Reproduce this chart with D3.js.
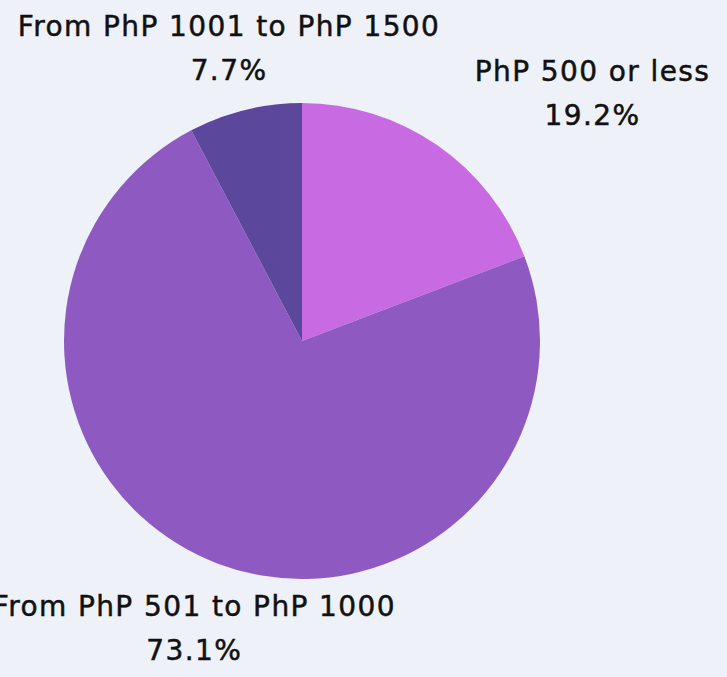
<!DOCTYPE html>
<meta charset="utf-8">
<title>PhP spending pie</title>
<style>
  body { margin: 0; background: #eef2f8; }
  svg { display: block; }
  .labels text {
    fill: #111;
    stroke: #111;
    stroke-width: 0.5px;
    letter-spacing: 1.4px;
    font: 400 28px "DejaVu Sans", sans-serif;
  }
</style>
<svg width="727" height="677"></svg>
<script src="https://cdn.jsdelivr.net/npm/d3@7"></script>
<script>
  var categories = ["PhP 500 or less", "From PhP 501 to PhP 1000", "From PhP 1001 to PhP 1500"];
  var shares = [19.2, 73.1, 7.7];
  var colors = ["#c86be3", "#8e5ac2", "#5b479c"];

  var svg = d3.select("svg"),
    width = +svg.attr("width"),
    height = +svg.attr("height"),
    cx = 302,
    cy = 341,
    radius = 238;

  svg.append("rect")
    .attr("width", width)
    .attr("height", height)
    .attr("fill", "#eef2f8");

  var data = categories.map(function(c, i) {
    return { label: c, value: shares[i], color: colors[i] };
  });

  var pie = d3.pie()
    .sort(null)
    .value(function(d) { return d.value; });

  var arc = d3.arc()
    .innerRadius(0)
    .outerRadius(radius);

  var labelArc = d3.arc()
    .innerRadius(radius * 1.28)
    .outerRadius(radius * 1.28);

  var g = svg.append("g")
    .attr("transform", "translate(" + cx + "," + cy + ")");

  var arcs = pie(data);

  g.append("g")
    .selectAll("path")
    .data(arcs)
    .enter().append("path")
    .attr("d", arc)
    .attr("fill", function(d) { return d.data.color; });

  var label = g.append("g")
    .attr("class", "labels")
    .selectAll("g")
    .data(arcs)
    .enter().append("g");

  var labelName = label.append("text")
    .attr("text-anchor", "middle")
    .attr("dominant-baseline", "central")
    .attr("y", -22)
    .text(function(d) { return d.data.label; });

  label.append("text")
    .attr("text-anchor", "middle")
    .attr("dominant-baseline", "central")
    .attr("y", 22)
    .text(function(d) { return d.data.value.toFixed(1) + "%"; });

  // label blocks on the upper right start at the point, others are centred on it
  var nameNodes = labelName.nodes();
  label.attr("transform", function(d, i) {
    var p = labelArc.centroid(d),
      mid = (d.startAngle + d.endAngle) / 2,
      w = nameNodes[i].getComputedTextLength();
    var x = mid < Math.PI / 2 ? p[0] + w / 2 : p[0];
    return "translate(" + x + "," + (p[1] + 3) + ")";
  });
</script>
